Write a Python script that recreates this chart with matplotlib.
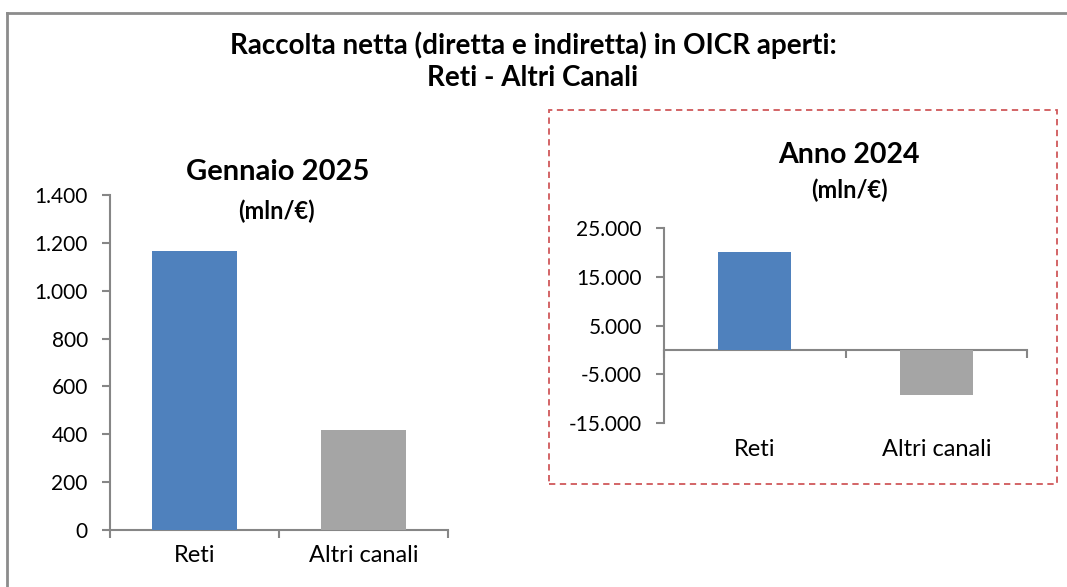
import matplotlib
matplotlib.use("Agg")
import matplotlib.pyplot as plt
import matplotlib.transforms as mtr
from matplotlib.patches import Rectangle
from matplotlib.lines import Line2D
from matplotlib.ticker import FixedLocator, FuncFormatter

categories = ["Reti", "Altri canali"]
gennaio_2025 = [1165, 418]
anno_2024 = [20100, -9300]
left_ticks = [0, 200, 400, 600, 800, 1000, 1200, 1400]
right_ticks = [-15000, -5000, 5000, 15000, 25000]
bar_colors = ["#4F81BD", "#A5A5A5"]

title = "Raccolta netta (diretta e indiretta) in OICR aperti:\nReti - Altri Canali"

W, H = 1067, 587
FONT = "Lato"
plt.rcParams["font.family"] = [FONT, "DejaVu Sans"]
AX_COL = "#868686"
TICK_FS = 15
CAT_FS = 17

fig = plt.figure(figsize=(W / 100, H / 100), dpi=100)


def px_axes(x0, y0, x1, y1):
    return fig.add_axes([x0 / W, 1 - y1 / H, (x1 - x0) / W, (y1 - y0) / H])


def fmt(v, _):
    s = f"{abs(int(v)):,}".replace(",", ".")
    return ("-" if v < 0 else "") + s


def style(ax, ticks, ylim):
    ax.set_xlim(-0.5, 1.5)
    ax.set_ylim(*ylim)
    for s in ["top", "right"]:
        ax.spines[s].set_visible(False)
    for s in ["left", "bottom"]:
        ax.spines[s].set_color(AX_COL)
        ax.spines[s].set_linewidth(1.5)
    ax.yaxis.set_major_locator(FixedLocator(ticks))
    ax.yaxis.set_major_formatter(FuncFormatter(fmt))
    ax.tick_params(axis="y", direction="out", length=6, width=1.5, color=AX_COL,
                   labelsize=TICK_FS, pad=10, labelcolor="black")
    ax.set_xticks([])
    ax.xaxis.set_minor_locator(FixedLocator([-0.5, 0.5, 1.5]))
    ax.tick_params(axis="x", which="minor", direction="out", length=6, width=1.5, color=AX_COL)


# left chart
axL = px_axes(110, 195, 448, 530)
axL.bar(range(len(categories)), gennaio_2025, width=0.5, color=bar_colors, zorder=3)
style(axL, left_ticks, (0, 1400))

# right chart
axR = px_axes(664, 227.7, 1027, 423.3)
axR.bar(range(len(categories)), anno_2024, width=0.4, color=bar_colors, zorder=3)
style(axR, right_ticks, (-15000, 25000))
axR.spines["bottom"].set_position(("data", 0))

for ax, ylab in [(axL, 556), (axR, 450)]:
    tr = mtr.blended_transform_factory(ax.transData, fig.transFigure)
    for i, c in enumerate(categories):
        ax.text(i, 1 - ylab / H, c, transform=tr, fontsize=CAT_FS, ha="center", va="center")


def ftext(x, y, s, **kw):
    fig.text(x / W, 1 - y / H, s, ha="center", va="center", **kw)


ftext(533, 61, title, fontsize=20, fontweight="bold", linespacing=1.3)
ftext(278, 172, "Gennaio 2025", fontsize=21, fontweight="bold")
ftext(276, 211, "(mln/€)", fontsize=17, fontweight="bold")
ftext(849, 155, "Anno 2024", fontsize=20.5, fontweight="bold")
ftext(849, 190, "(mln/€)", fontsize=17, fontweight="bold")

# outer frame (top and left)
fig.add_artist(Line2D([7 / W, 1], [1 - 13 / H, 1 - 13 / H], transform=fig.transFigure,
                      color="#8C8C8C", lw=2))
fig.add_artist(Line2D([7 / W, 7 / W], [0, 1 - 13 / H], transform=fig.transFigure,
                      color="#8C8C8C", lw=2))

# dashed red box
fig.add_artist(Rectangle((549 / W, 1 - 484 / H), (1057 - 549) / W, (484 - 110) / H,
                         transform=fig.transFigure, fill=False, edgecolor="#D0585A",
                         lw=1.3, linestyle=(0, (3.5, 2.5))))

fig.savefig("out.png", dpi=100)
